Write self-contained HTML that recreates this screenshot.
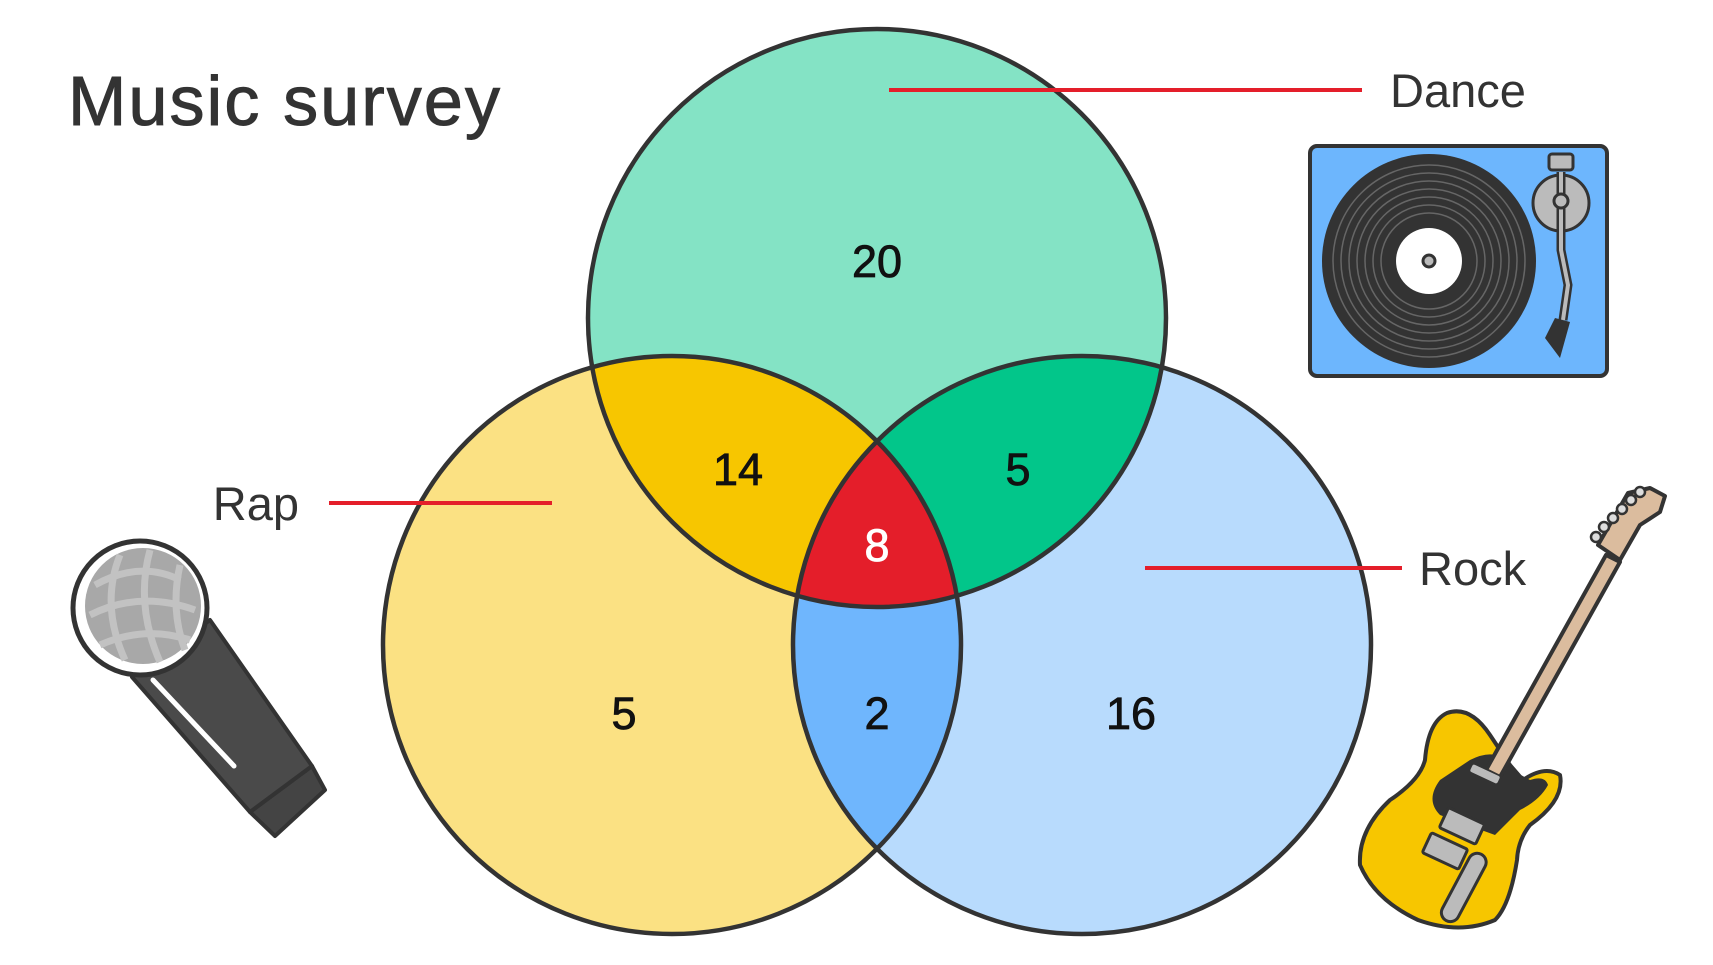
<!DOCTYPE html>
<html><head><meta charset="utf-8"><style>
html,body{margin:0;padding:0;background:#fff}
svg{display:block}
text{font-family:"Liberation Sans",sans-serif}
</style></head><body>
<svg id="chart" width="1713" height="965" viewBox="0 0 1713 965">
<defs>
<clipPath id="cD"><circle cx="877" cy="318" r="289"/></clipPath>
<clipPath id="cR"><circle cx="672" cy="645" r="289"/></clipPath>
<clipPath id="cK"><circle cx="1082" cy="645" r="289"/></clipPath>
</defs>
<text x="68" y="125" font-size="70" fill="#333" stroke="#333" stroke-width="1" textLength="432">Music survey</text>
<g id="venn"></g>
<g id="labels"></g>

<!-- turntable -->
<g transform="translate(-7,0)">
<rect x="1317" y="146" width="297" height="230" rx="7" fill="#6db6fd" stroke="#333" stroke-width="4"/>
<circle cx="1436" cy="261" r="107" fill="#333"/>
<g fill="none" stroke="#666" stroke-width="1.5">
<circle cx="1436" cy="261" r="96"/><circle cx="1436" cy="261" r="88"/><circle cx="1436" cy="261" r="80"/><circle cx="1436" cy="261" r="72"/><circle cx="1436" cy="261" r="64"/><circle cx="1436" cy="261" r="56"/><circle cx="1436" cy="261" r="48"/>
</g>
<circle cx="1436" cy="261" r="33" fill="#fff"/>
<circle cx="1436" cy="261" r="6" fill="#bbb" stroke="#333" stroke-width="3"/>
<circle cx="1568" cy="203" r="28" fill="#bbb" stroke="#333" stroke-width="3"/>
<path d="M1568 172 L1568 250 L1575 285 L1570 320" fill="none" stroke="#333" stroke-width="9"/>
<path d="M1568 172 L1568 250 L1575 285 L1570 320" fill="none" stroke="#bbb" stroke-width="4"/>
<rect x="1556" y="154" width="24" height="16" rx="3" fill="#bbb" stroke="#333" stroke-width="3"/>
<circle cx="1568" cy="201" r="7" fill="#bbb" stroke="#333" stroke-width="3"/>
<path d="M1552 338 L1562 318 L1577 322 L1567 358 Z" fill="#333"/>
</g>

<!-- microphone -->
<g>
<path d="M250 812 L312 766 L325 790 L275 836 Z" fill="#444" stroke="#333" stroke-width="4" stroke-linejoin="round"/>
<path d="M132 677 L210 620 L312 766 L250 812 Z" fill="#4a4a4a" stroke="#333" stroke-width="4" stroke-linejoin="round"/>
<line x1="153" y1="680" x2="234" y2="766" stroke="#fff" stroke-width="5" stroke-linecap="round"/>
<circle cx="140" cy="608" r="67" fill="#fff" stroke="#333" stroke-width="5"/>
<circle cx="143" cy="606" r="58" fill="#a8a8a8"/>
<g stroke="#c2c2c2" stroke-width="7" fill="none">
<path d="M95 585 Q140 560 180 580"/><path d="M90 615 Q140 590 195 610"/><path d="M100 645 Q145 625 190 640"/>
<path d="M120 555 Q100 605 125 660"/><path d="M150 550 Q135 605 160 662"/><path d="M180 565 Q170 610 185 650"/>
</g>
</g>

<!-- guitar -->
<g>
<path d="M1598 545 L1628 493 L1650 488 L1665 496 L1660 512 L1640 525 L1620 560 Z" fill="#dbbc9e" stroke="#333" stroke-width="4" stroke-linejoin="round"/>
<g fill="#ddd" stroke="#333" stroke-width="2.5"><circle cx="1596" cy="537" r="5"/><circle cx="1604" cy="527" r="5"/><circle cx="1613" cy="518" r="5"/><circle cx="1622" cy="509" r="5"/><circle cx="1631" cy="500" r="5"/><circle cx="1640" cy="492" r="5"/></g>
<path d="M1447 713 Q1470 705 1490 735 L1510 765 L1523 780 Q1545 765 1560 775 Q1565 800 1530 825 Q1518 840 1517 860 Q1510 905 1495 920 Q1460 935 1418 920 Q1375 900 1360 865 Q1358 830 1390 800 Q1420 780 1425 760 Q1428 722 1447 713 Z" fill="#f7c600" stroke="#333" stroke-width="4" stroke-linejoin="round"/>
<path d="M1470 760 Q1500 745 1512 770 L1530 780 Q1545 775 1548 785 Q1540 800 1520 810 Q1500 830 1495 835 L1440 815 Q1425 800 1440 780 Z" fill="#333"/>
<path d="M1486 770 L1606 555 L1620 562 L1500 777 Z" fill="#dbbc9e" stroke="#333" stroke-width="4" stroke-linejoin="round"/>
<rect x="1470" y="770" width="30" height="8" rx="2" fill="#bbb" transform="rotate(25 1485 774)"/>
<rect x="1442" y="815" width="40" height="22" rx="2" fill="#bbb" stroke="#333" stroke-width="3" transform="rotate(25 1462 826)"/>
<rect x="1425" y="840" width="40" height="22" rx="2" fill="#bbb" stroke="#333" stroke-width="3" transform="rotate(25 1445 851)"/>
<rect x="1455" y="850" width="18" height="75" rx="9" fill="#bbb" stroke="#333" stroke-width="3" transform="rotate(28 1464 887)"/>
</g>
</svg>
<script>
// data
const setNames = ["Dance", "Rap", "Rock"];
const regionNames = ["dance-only", "rap-dance", "dance-rock", "all-three", "rap-only", "rap-rock", "rock-only"];
const regionValues = [20, 14, 5, 8, 5, 2, 16];

const NS = "http://www.w3.org/2000/svg";
const venn = document.getElementById("venn");
const labels = document.getElementById("labels");
const C = {D:[877,318], R:[672,645], K:[1082,645]}, r = 289;
function circ(c, fill, clip){
  const e = document.createElementNS(NS, "circle");
  e.setAttribute("cx", C[c][0]); e.setAttribute("cy", C[c][1]); e.setAttribute("r", r);
  e.setAttribute("fill", fill);
  if (clip) e.setAttribute("clip-path", "url(#" + clip + ")");
  return e;
}
function group(clip){ const g = document.createElementNS(NS, "g"); if (clip) g.setAttribute("clip-path", "url(#" + clip + ")"); return g; }
let e;
e = circ("D", "#84e3c5");   venn.appendChild(e);
e = circ("R", "#fbe183");   venn.appendChild(e);
e = circ("K", "#b8dbfd");   venn.appendChild(e);
e = circ("R", "#f7c600", "cD");   venn.appendChild(e);
e = circ("K", "#02c68a", "cD");   venn.appendChild(e);
e = circ("K", "#6fb6fd", "cR");   venn.appendChild(e);
let g = group("cD"); const inner = circ("K", "#e41e2a", "cR"); g.appendChild(inner);
  venn.appendChild(g);
["D","R","K"].forEach(k => {
  const o = circ(k, "none"); o.setAttribute("stroke", "#333"); o.setAttribute("stroke-width", "4.5");
   
  venn.appendChild(o);
});
const pos = [[877,261],[738,469],[1018,469],[877,545],[624,713],[877,713],[1131,713]];
regionValues.forEach((v, i) => {
  const t = document.createElementNS(NS, "text");
  t.setAttribute("x", pos[i][0]); t.setAttribute("y", pos[i][1] + 16);
  t.setAttribute("text-anchor", "middle"); t.setAttribute("font-size", "45");
  t.setAttribute("fill", i === 3 ? "#fff" : "#111");
  t.setAttribute("stroke", i === 3 ? "#fff" : "#111"); t.setAttribute("stroke-width", "0.8");
  t.textContent = v;
  
  
  labels.appendChild(t);
});
const lab = [[889,1362,90,1390,"start"],[329,552,503,299,"end"],[1145,1402,568,1419,"start"]];
const setOrder = [0,1,2];
setOrder.forEach((s, i) => {
  const L = lab[i];
  const ln = document.createElementNS(NS, "line");
  ln.setAttribute("x1", L[0]); ln.setAttribute("x2", L[1]); ln.setAttribute("y1", L[2]); ln.setAttribute("y2", L[2]);
  ln.setAttribute("stroke", "#e41e2a"); ln.setAttribute("stroke-width", "4");
  
  
  labels.appendChild(ln);
  const t = document.createElementNS(NS, "text");
  t.setAttribute("x", L[3]); t.setAttribute("y", L[2] + 17);
  t.setAttribute("text-anchor", L[4]); t.setAttribute("font-size", "47"); t.setAttribute("fill", "#333");
  t.textContent = setNames[s];
  
  
  labels.appendChild(t);
});
</script>
</body></html>
